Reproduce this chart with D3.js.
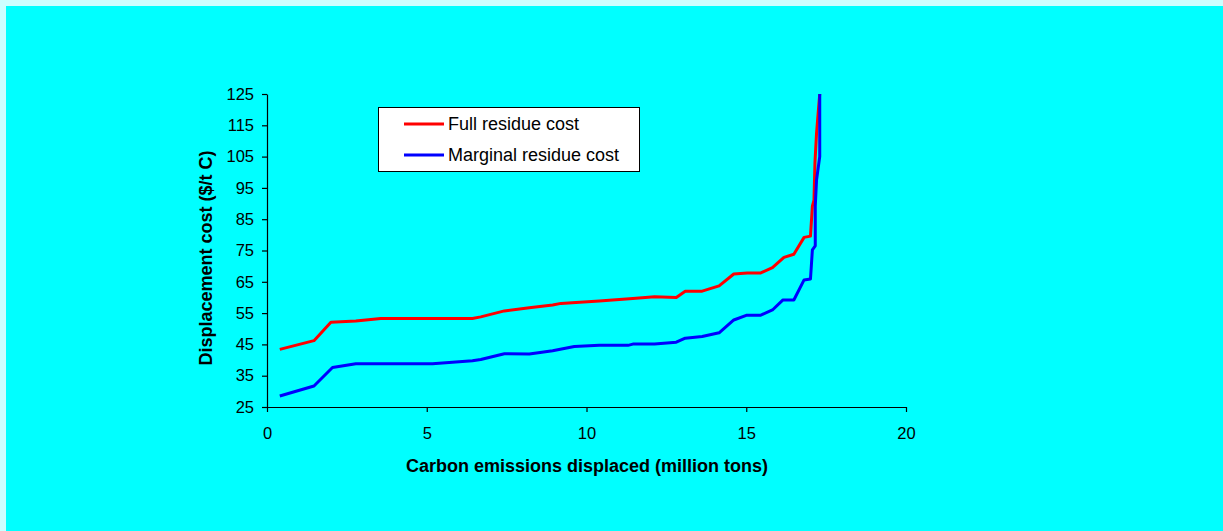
<!DOCTYPE html>
<html>
<head>
<meta charset="utf-8">
<script src="https://cdn.jsdelivr.net/npm/d3@7"></script>
<style>
  html, body { margin: 0; padding: 0; background: #ccffff; }
  #chart { position: absolute; left: 0; top: 0; }
</style>
</head>
<body>
<div id="chart"></div>
<script>
// values
var fullX = [0.40, 1.47, 2.00, 2.78, 3.56, 6.43, 6.69, 7.43, 8.21, 8.94, 9.20, 9.67, 10.40, 11.45, 12.13, 12.81, 13.09, 13.62, 14.15, 14.61, 15.03, 15.44, 15.82, 16.18, 16.49, 16.81, 17.01, 17.07, 17.12, 17.15, 17.20, 17.25, 17.30];
var fullY = [43.4, 46.2, 52.1, 52.5, 53.3, 53.3, 53.8, 55.7, 56.7, 57.6, 58.1, 58.4, 58.9, 59.7, 60.2, 60.0, 62.0, 62.0, 63.7, 67.5, 67.8, 67.8, 69.5, 72.8, 73.8, 79.2, 79.6, 89.2, 91.1, 103, 112.4, 118.8, 125];

var margX = [0.40, 1.47, 2.05, 2.78, 5.18, 6.43, 6.69, 7.43, 8.21, 8.94, 9.62, 10.40, 11.30, 11.45, 12.13, 12.81, 13.09, 13.62, 14.15, 14.61, 15.00, 15.44, 15.82, 16.15, 16.49, 16.81, 17.01, 17.07, 17.16, 17.16, 17.20, 17.30, 17.30];
var margY = [28.5, 31.7, 37.6, 38.8, 38.8, 39.8, 40.2, 42.0, 41.9, 43.0, 44.3, 44.7, 44.7, 45.1, 45.1, 45.7, 47.0, 47.5, 48.7, 52.8, 54.3, 54.3, 56.0, 59.2, 59.2, 65.6, 65.9, 75.2, 76.5, 89.2, 97.5, 105, 125];

var xTicks = [0, 5, 10, 15, 20];
var yTicks = [25, 35, 45, 55, 65, 75, 85, 95, 105, 115, 125];
var seriesNames = ["Full residue cost", "Marginal residue cost"];
var seriesColors = ["#ff0000", "#0000ff"];

var W = 1223, H = 531;
var svg = d3.select("#chart").append("svg")
    .attr("width", W)
    .attr("height", H);

// cyan background with the light strip on top and left
svg.append("rect")
    .attr("x", 6).attr("y", 6)
    .attr("width", W - 6).attr("height", H - 6)
    .attr("fill", "#00ffff");

var x = d3.scaleLinear().domain([0, 20]).range([267, 906]);
var y = d3.scaleLinear().domain([25, 125]).range([407, 94]);

var font = "'Liberation Sans', Arial, sans-serif";

// Y axis
var yAxis = svg.append("g")
    .attr("transform", "translate(267,0)")
    .call(d3.axisLeft(y).tickValues(yTicks).tickSize(5).tickSizeOuter(0).tickPadding(8));

// X axis
var xAxis = svg.append("g")
    .attr("transform", "translate(0,407)")
    .call(d3.axisBottom(x).tickValues(xTicks).tickSize(5).tickSizeOuter(0).tickPadding(15));

[xAxis, yAxis].forEach(function (a) {
    a.select(".domain").attr("stroke", "#000").attr("stroke-width", 1.2);
    a.selectAll(".tick line").attr("stroke", "#000").attr("stroke-width", 1.2);
    a.selectAll("text")
        .attr("fill", "#000")
        .style("font-family", font)
        .style("font-size", "16.5px");
});

// axis titles
svg.append("text")
    .attr("x", 587).attr("y", 472)
    .attr("text-anchor", "middle")
    .style("font-family", font)
    .style("font-size", "18px")
    .style("font-weight", "bold")
    .text("Carbon emissions displaced (million tons)");

svg.append("text")
    .attr("transform", "translate(212,258) rotate(-90)")
    .attr("text-anchor", "middle")
    .style("font-family", font)
    .style("font-size", "18px")
    .style("font-weight", "bold")
    .text("Displacement cost ($/t C)");

// lines
var line = d3.line()
    .x(function (d) { return x(d[0]); })
    .y(function (d) { return y(d[1]); });

var series = [d3.zip(fullX, fullY), d3.zip(margX, margY)];

svg.selectAll(".series")
    .data(series)
    .enter()
    .append("path")
    .attr("class", "series")
    .attr("d", line)
    .attr("fill", "none")
    .attr("stroke", function (d, i) { return seriesColors[i]; })
    .attr("stroke-width", 3)
    .attr("stroke-linejoin", "round");

// legend
var legend = svg.append("g");
legend.append("rect")
    .attr("x", 378.5).attr("y", 107.5)
    .attr("width", 261).attr("height", 64)
    .attr("fill", "#fff")
    .attr("stroke", "#000")
    .attr("stroke-width", 1);

seriesNames.forEach(function (name, i) {
    var ly = 124 + i * 31;
    legend.append("line")
        .attr("x1", 404).attr("x2", 444)
        .attr("y1", ly).attr("y2", ly)
        .attr("stroke", seriesColors[i])
        .attr("stroke-width", 3);
    legend.append("text")
        .attr("x", 448).attr("y", ly + 6)
        .style("font-family", font)
        .style("font-size", "18px")
        .text(name);
});
</script>
</body>
</html>
